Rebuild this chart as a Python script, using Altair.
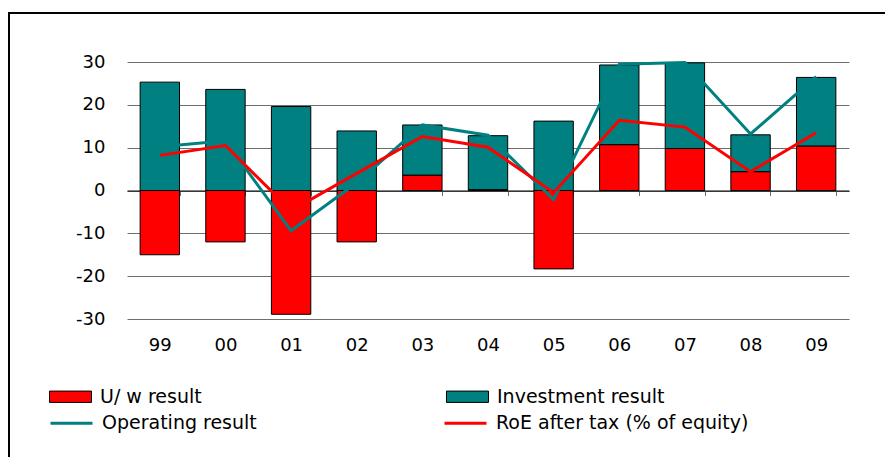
import altair as alt
import pandas as pd

years = ["99", "00", "01", "02", "03", "04", "05", "06", "07", "08", "09"]
uw_result = [-15.0, -12.0, -28.9, -12.0, 3.6, 0.2, -18.3, 10.7, 9.8, 4.4, 10.4]
investment_result = [25.3, 23.6, 19.6, 13.9, 11.7, 12.6, 16.2, 18.6, 20.0, 8.6, 16.0]
operating_result = [10.2, 11.6, -9.4, 1.8, 15.3, 12.9, -2.1, 29.5, 29.9, 13.2, 26.6]
roe_after_tax = [8.2, 10.5, -4.7, 4.0, 12.6, 10.1, -0.5, 16.4, 14.8, 4.4, 13.5]

bar_names = ["U/ w result", "Investment result"]
line_names = ["Operating result", "RoE after tax (% of equity)"]
y_ticks = [-30, -20, -10, 0, 10, 20, 30]

n = len(years)
bars_df = pd.DataFrame({
    "year": years * 2,
    "series": [bar_names[0]] * n + [bar_names[1]] * n,
    "value": uw_result + investment_result,
    "ord": [0] * n + [1] * n,
})
lines_df = pd.DataFrame({
    "year": years * 2,
    "line": [line_names[0]] * n + [line_names[1]] * n,
    "value": operating_result + roe_after_tax,
})

FONT = "DejaVu Sans"
RED = "#FF0000"
TEAL = "#008080"

W, H = 722, 257
PAD = {"left": 119, "top": 54, "right": 36, "bottom": 138}

x_scale = alt.Scale(paddingInner=0.4, paddingOuter=0.2)
y_scale = alt.Scale(domain=[-30, 30], nice=False)

x_axis = alt.Axis(
    title=None, orient="bottom", offset=-H / 2,
    domainColor="black", domainWidth=1,
    tickBand="extent", tickColor="#6e6e6e", tickSize=5, tickWidth=1,
    labelAngle=0, labelFont=FONT, labelFontSize=18, labelColor="black",
    labelPadding=150, labelBaseline="middle", grid=False,
)
y_axis = alt.Axis(
    title=None, values=y_ticks, ticks=False, tickSize=0, domain=False,
    labelPadding=22, labelFont=FONT, labelFontSize=18, labelColor="black",
    labelExpr="toString(datum.value)",
    grid=True, gridColor="#6e6e6e", gridWidth=1,
)

bars = alt.Chart(bars_df).mark_bar(stroke="black", strokeWidth=1).encode(
    x=alt.X("year:N", sort=years, scale=x_scale, axis=x_axis),
    y=alt.Y("value:Q", stack="zero", scale=y_scale, axis=y_axis),
    fill=alt.Fill(
        "series:N",
        scale=alt.Scale(domain=bar_names, range=[RED, TEAL]),
        legend=alt.Legend(
            title=None, orient="none", legendX=-78, legendY=313,
            direction="horizontal", columns=2, columnPadding=242,
            symbolType="M-1,-0.27L1,-0.27L1,0.27L-1,0.27Z", symbolSize=1764,
            symbolStrokeColor="black", symbolStrokeWidth=1, symbolOpacity=1,
            labelFont=FONT, labelFontSize=19, labelColor="black",
            labelOffset=8, labelLimit=500, padding=0,
        ),
    ),
    order=alt.Order("ord:Q"),
)

lines = alt.Chart(lines_df).mark_line(strokeWidth=3).encode(
    x=alt.X("year:N", sort=years, scale=x_scale),
    y=alt.Y("value:Q", scale=y_scale),
    stroke=alt.Stroke(
        "line:N",
        sort=line_names,
        scale=alt.Scale(domain=line_names, range=[TEAL, RED]),
        legend=alt.Legend(
            title=None, orient="none", legendX=-78, legendY=338.5,
            direction="horizontal", columns=2, columnPadding=181,
            symbolType="stroke", symbolSize=1764, symbolStrokeWidth=3,
            labelFont=FONT, labelFontSize=19, labelColor="black",
            labelOffset=8, labelLimit=500, padding=0,
        ),
    ),
)

one = pd.DataFrame({"a": [0]})
frame_left = alt.Chart(one).mark_rule(color="black", strokeWidth=2).encode(
    x=alt.value(-118), y=alt.value(-50), y2=alt.value(H + PAD["bottom"])
)
frame_top = alt.Chart(one).mark_rule(color="black", strokeWidth=2).encode(
    x=alt.value(-119), x2=alt.value(W + PAD["right"]), y=alt.value(-49)
)

chart = alt.layer(frame_left, frame_top, bars, lines).properties(
    width=W, height=H,
    autosize=alt.AutoSizeParams(type="none"),
    padding=PAD,
).configure_view(stroke=None)

chart.save("out.html", embed_options={"renderer": "svg", "actions": False})
